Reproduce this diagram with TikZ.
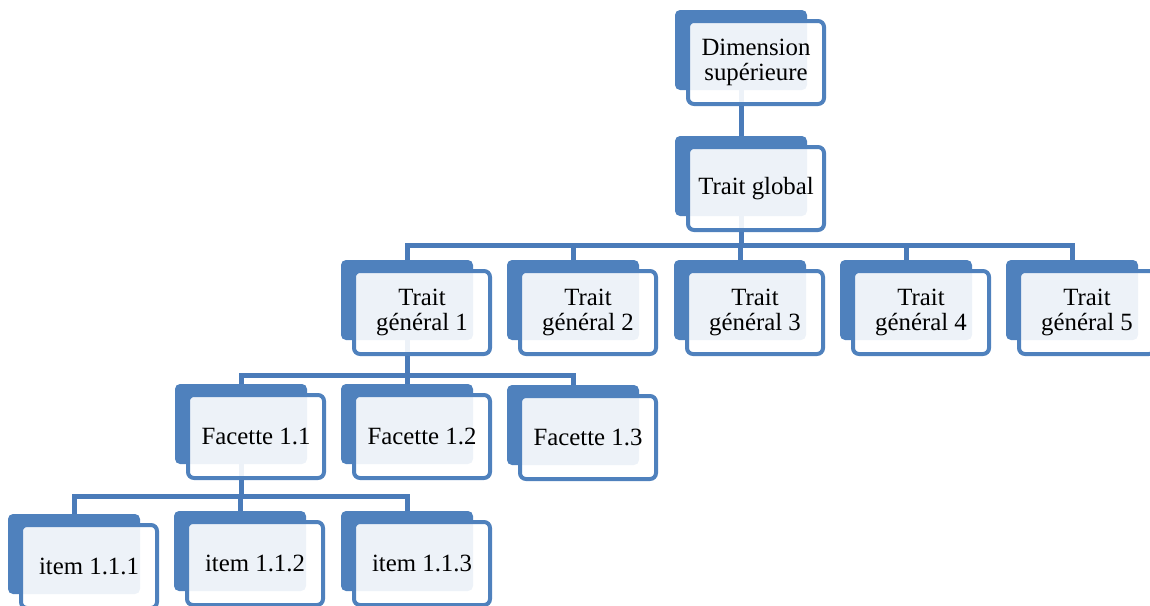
\documentclass[tikz,border=0pt]{standalone}
\usepackage{fontspec}
\setmainfont{Liberation Serif}
\usetikzlibrary{backgrounds}
\definecolor{boxblue}{HTML}{4F81BD}
\definecolor{linkblue}{HTML}{4A7BB9}

\begin{document}
\begin{tikzpicture}[x=1pt, y=-1pt,
	back/.style={fill=boxblue, rounded corners=5pt, minimum width=132pt, minimum height=80pt, inner sep=0pt},
	front/.style={draw=boxblue, line width=4pt, fill=white, fill opacity=0.9, text opacity=1, draw opacity=1,
		rounded corners=6pt, minimum width=136pt, minimum height=83pt, inner sep=0pt, align=center,
		font=\fontsize{24.8}{25}\selectfont},
	link/.style={draw=linkblue, line width=5pt}]

	\useasboundingbox (0,0) rectangle (1150,605);

	%back boxes
	\node[back] (dim) at (741,50) {};
	\node[back] (tg) at (741,176) {};
	\node[back] (tg1) at (407,300) {};
	\node[back] (tg2) at (573,300) {};
	\node[back] (tg3) at (740,300) {};
	\node[back] (tg4) at (906,300) {};
	\node[back] (tg5) at (1072,300) {};
	\node[back] (f11) at (241,424) {};
	\node[back] (f12) at (407,424) {};
	\node[back] (f13) at (573,425) {};
	\node[back] (i111) at (74,554) {};
	\node[back] (i112) at (240,551) {};
	\node[back] (i113) at (407,551) {};

	%front boxes with labels
	\node[front] (dim-t) at ([shift={(15,12.5)}]dim) {Dimension\\supérieure};
	\node[front] (tg-t) at ([shift={(15,12.5)}]tg) {Trait global};
	\node[front] (tg1-t) at ([shift={(15,12.5)}]tg1) {Trait\\général 1};
	\node[front] (tg2-t) at ([shift={(15,12.5)}]tg2) {Trait\\général 2};
	\node[front] (tg3-t) at ([shift={(15,12.5)}]tg3) {Trait\\général 3};
	\node[front] (tg4-t) at ([shift={(15,12.5)}]tg4) {Trait\\général 4};
	\node[front] (tg5-t) at ([shift={(15,12.5)}]tg5) {Trait\\général 5};
	\node[front] (f11-t) at ([shift={(15,12.5)}]f11) {Facette 1.1};
	\node[front] (f12-t) at ([shift={(15,12.5)}]f12) {Facette 1.2};
	\node[front] (f13-t) at ([shift={(15,12.5)}]f13) {Facette 1.3};
	\node[front] (i111-t) at ([shift={(15,12.5)}]i111) {item 1.1.1};
	\node[front] (i112-t) at ([shift={(15,12.5)}]i112) {item 1.1.2};
	\node[front] (i113-t) at ([shift={(15,12.5)}]i113) {item 1.1.3};

	%bar heights
	\coordinate (bar0) at (741,245);
	\coordinate (bar1) at (407,375);
	\coordinate (bar2) at (241,496);

	%connectors behind the boxes
	\begin{scope}[on background layer]
		\draw[link] (dim.center) -- (tg.center);
		\foreach \c in {tg1,tg2,tg3,tg4,tg5}
			\draw[link] (tg.center) |- (\c.center |- bar0) -- (\c.center);
		\foreach \c in {f11,f12,f13}
			\draw[link] (tg1.center) |- (\c.center |- bar1) -- (\c.center);
		\foreach \c in {i111,i112,i113}
			\draw[link] (f11.center) |- (\c.center |- bar2) -- (\c.center);
	\end{scope}

\end{tikzpicture}
\end{document}
